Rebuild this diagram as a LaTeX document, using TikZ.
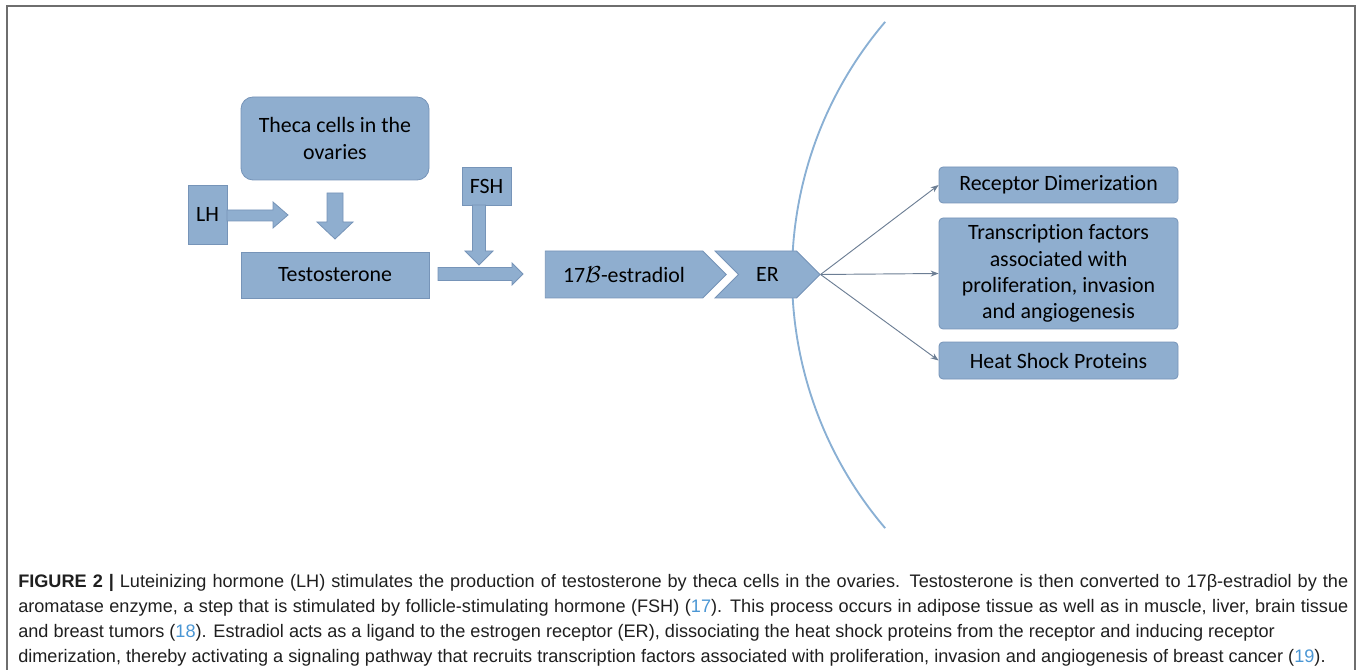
\documentclass[tikz,border=0pt]{standalone}
\usepackage{amsmath, amssymb}
\usepackage{fontspec}
\setmainfont{Carlito}[Ligatures=NoCommon]
\newfontfamily\captionfont{Liberation Sans}
\usepackage{xcolor}
\usepackage{tikz}
\usetikzlibrary{shapes.symbols, arrows.meta, positioning, calc}
\definecolor{boxfill}{RGB}{143,174,207}
\definecolor{boxline}{RGB}{118,148,184}
\definecolor{arcblue}{RGB}{138,176,212}
\definecolor{linkgray}{RGB}{108,126,148}
\definecolor{refblue}{RGB}{74,150,212}
\definecolor{framegray}{RGB}{110,110,110}
\newcommand{\capref}[1]{(\textcolor{refblue}{#1})}
\newcommand{\fullline}[1]{\hbox to 997.5pt{#1}}

\begin{document}
\begin{tikzpicture}[x=0.75pt, y=-0.75pt,
        box/.style={rectangle, draw=boxline, fill=boxfill, line width=0.6pt, align=center, inner sep=0pt, font=\fontsize{16.4}{19.6}\selectfont},
        blockarrow/.style={draw=boxline, fill=boxfill, line width=0.6pt},
        chevron/.style={signal, draw=boxline, fill=boxfill, line width=0.6pt, inner sep=0pt, signal pointer angle=90, font=\fontsize{16.4}{19.6}\selectfont},
        link/.style={-{Stealth[length=6pt, width=4.5pt]}, draw=linkgray, line width=0.7pt},
        capline/.style={anchor=base west, inner sep=0pt, text=black!88, font=\captionfont\fontsize{13.6}{16}\selectfont}
    ]
        \useasboundingbox (0,0) rectangle (1360,670);
        % frame
        \draw[framegray, line width=1.5pt] (7,670) -- (7,6) -- (1355,6) -- (1355,670);

        % membrane
        \draw[arcblue, line width=1.4pt] (1182.6,275) ++(139.6:390.6) arc[start angle=139.6, end angle=220.4, radius=390.6];

        % boxes
        \node[box, rounded corners=9pt, minimum width=141pt, minimum height=62.25pt] (theca) at (335,138.5) {Theca cells in the\\ovaries};
        \node[box, minimum width=29.25pt, minimum height=44.25pt] (lh) at (207.5,214.5) {LH};
        \node[box, minimum width=141pt, minimum height=34.5pt] (testo) at (335,275) {Testosterone};
        \node[box, minimum width=36.75pt, minimum height=28.5pt] (fsh) at (486.5,186) {FSH};

        \node[chevron, signal from=nowhere, signal to=east, minimum width=135.75pt, minimum height=35.25pt] (estradiol) at (624,274.5) {17$\mathcal{B}$-estradiol};
        \node[chevron, signal from=west, signal to=east, minimum width=78.75pt, minimum height=35.25pt] (er) at (767.5,274.5) {ER};

        \node[box, rounded corners=3pt, minimum width=179.25pt, minimum height=27pt] (dimer) at (1058.5,185) {Receptor Dimerization};
        \node[box, rounded corners=3pt, minimum width=179.25pt, minimum height=83.25pt] (tf) at (1058.5,273.5) {Transcription factors\\associated with\\proliferation, invasion\\and angiogenesis};
        \node[box, rounded corners=3pt, minimum width=179.25pt, minimum height=27.75pt] (hsp) at (1058.5,360.5) {Heat Shock Proteins};

        % block arrows
        \filldraw[blockarrow] (227,210) -- (273,210) -- (273,202) -- (288,215) -- (273,228) -- (273,221) -- (227,221) -- cycle;
        \filldraw[blockarrow] (327,193) -- (343,193) -- (343,222) -- (353,222) -- (335,239) -- (317,222) -- (327,222) -- cycle;
        \filldraw[blockarrow] (472.5,205) -- (485.5,205) -- (485.5,251) -- (493,251) -- (479,265) -- (465,251) -- (472.5,251) -- cycle;
        \filldraw[blockarrow] (438,267.5) -- (512,267.5) -- (512,263) -- (523,274) -- (512,285) -- (512,280.5) -- (438,280.5) -- cycle;

        % links
        \draw[link] (er.east) -- (dimer.west);
        \draw[link] (er.east) -- (tf.west);
        \draw[link] (er.east) -- (hsp.west);

        % caption
        \node[capline] (cap1) at (18,587) {\fullline{\textbf{FIGURE 2 |} Luteinizing hormone (LH) stimulates the production of testosterone by theca cells in the ovaries. Testosterone is then converted to 17β-estradiol by the}};
        \node[capline] (cap2) at (18,612) {\fullline{aromatase enzyme, a step that is stimulated by follicle-stimulating hormone (FSH) \capref{17}. This process occurs in adipose tissue as well as in muscle, liver, brain tissue}};
        \node[capline] (cap3) at (18,637) {and breast tumors \capref{18}. Estradiol acts as a ligand to the estrogen receptor (ER), dissociating the heat shock proteins from the receptor and inducing receptor};
        \node[capline] (cap4) at (18,662) {dimerization, thereby activating a signaling pathway that recruits transcription factors associated with proliferation, invasion and angiogenesis of breast cancer \capref{19}.};
    \end{tikzpicture}
\end{document}
